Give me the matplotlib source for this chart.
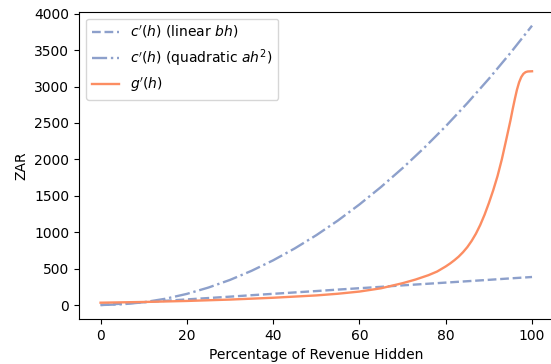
import matplotlib
matplotlib.use("Agg")
import matplotlib.pyplot as plt

# Percentage of revenue hidden
h_c = [0, 5, 10, 15, 20, 25, 30, 35, 40, 45, 50, 55, 60, 65, 70, 75, 80, 85, 90, 95, 100]
c_linear = [0, 19, 38, 58, 77, 96, 115, 135, 154, 173, 192, 212, 231, 250, 270, 289, 308, 327, 346, 366, 385]
c_quad = [0, 10, 38, 86, 153, 240, 345, 470, 614, 777, 959, 1160, 1381, 1621, 1880,
          2158, 2455, 2772, 3107, 3462, 3836]

h_g = [0, 10, 20, 30, 40, 50, 55, 60, 65, 70, 73, 76, 78, 80, 81, 82, 83, 84, 85, 86, 87,
       88, 89, 90, 91, 92, 93, 94, 95, 95.5, 96, 96.5, 97, 97.5, 98, 98.5, 99, 100]
g_vals = [32, 42, 56, 75, 100, 132, 155, 185, 230, 300, 350, 410, 460, 530, 570, 615,
          665, 725, 795, 880, 980, 1100, 1240, 1400, 1575, 1770, 2000, 2265, 2535, 2685,
          2825, 2955, 3058, 3130, 3175, 3198, 3207, 3210]

blue = "#8da0cb"
orange = "#fc8d62"

fig = plt.figure(figsize=(5.51, 3.64), dpi=100)
ax = fig.add_axes([79/551, 1-319/364, (553.6-79)/551, (319-11.7)/364])

ax.plot(h_c, c_linear, linestyle="--", color=blue, lw=1.7, label=r"$c'(h)$ (linear $bh$)")
ax.plot(h_c, c_quad, linestyle="-.", color=blue, lw=1.7, label=r"$c'(h)$ (quadratic $ah^2$)")
ax.plot(h_g, g_vals, linestyle="-", color=orange, lw=1.7, label=r"$g'(h)$")

ax.spines["right"].set_visible(False)
ax.set_xlabel("Percentage of Revenue Hidden")
ax.set_ylabel("ZAR")
ax.set_xticks([0, 20, 40, 60, 80, 100])
ax.set_yticks([0, 500, 1000, 1500, 2000, 2500, 3000, 3500, 4000])
ax.legend(loc="upper left")

fig.savefig("out.png", dpi=100)
